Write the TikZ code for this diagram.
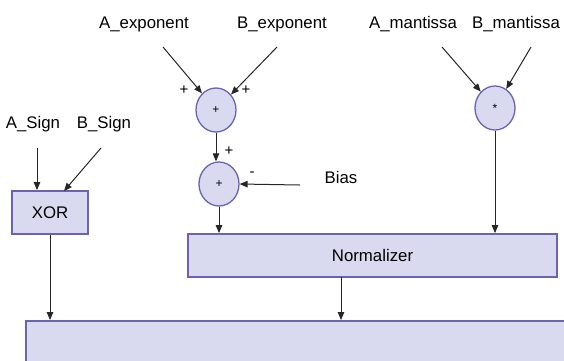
\documentclass[tikz,border=0pt]{standalone}
\usepackage{fontspec}
\setmainfont{Liberation Sans}
\usetikzlibrary{shapes.geometric,arrows.meta}
\definecolor{boxfill}{HTML}{D9DAF0}
\definecolor{boxline}{HTML}{6C62B4}
\tikzset{
  lbl/.style={font=\fontsize{16.8}{19}\selectfont, inner sep=0pt},
  sml/.style={font=\fontsize{15}{17}\selectfont, inner sep=0pt},
  opnode/.style={ellipse, draw=boxline, line width=1.3pt, fill=boxfill, minimum width=40pt, minimum height=44pt, inner sep=0pt, font=\fontsize{12}{14}\selectfont},
  blk/.style={rectangle, draw=boxline, line width=1.8pt, fill=boxfill, inner sep=0pt, font=\fontsize{16.8}{19}\selectfont},
  arr/.style={-{Triangle[length=8pt,width=6.5pt]}, line width=1pt, black!85},
}
\begin{document}
\begin{tikzpicture}[x=1pt,y=-1pt]
\useasboundingbox (0,0) rectangle (564,360);
\begin{scope}
\clip (0,0) rectangle (564,360);
% labels
\node[lbl] (aexp) at (144,24) {A\_exponent};
\node[lbl] (bexp) at (282,24) {B\_exponent};
\node[lbl] (aman) at (413,24) {A\_mantissa};
\node[lbl] (bman) at (516,24) {B\_mantissa};
\node[lbl] (asgn) at (33,124) {A\_Sign};
\node[lbl] (bsgn) at (104,124) {B\_Sign};
\node[lbl] (bias) at (341,177) {Bias};
% operators
\node[opnode] (add1) at (216,110) {+};
\node[opnode] (add2) at (219,184) {+};
\node[opnode] (mul) at (495,108) {*};
% blocks
\node[blk, minimum width=76pt, minimum height=43pt] (xor) at (50,212.5) {XOR};
\node[blk, minimum width=369pt, minimum height=43pt] (norm) at (372.5,255.5) {Normalizer};
\node[blk, minimum width=560pt, minimum height=60pt, anchor=north west] (out) at (25,320) {};
% free ends
\coordinate (ae) at (163,47);
\coordinate (be) at (277,47);
\coordinate (am) at (442,47);
\coordinate (bm) at (531,47);
\coordinate (as) at (37,148);
\coordinate (bs) at (101,148);
\coordinate (bi) at (300,185);
% connectors
\draw[arr] (ae) -- (add1);
\draw[arr] (be) -- (add1);
\draw[arr] (am) -- (mul);
\draw[arr] (bm) -- (mul);
\draw[arr] (add1.south) -- (add2.north -| add1.south);
\draw[arr] (bi) -- (add2.east);
\draw[arr] (add2.south) -- (norm.north -| add2.south);
\draw[arr] (mul.south) -- (norm.north -| mul.south);
\draw[arr] (as) -- (xor.north -| as);
\draw[arr] (bs) -- (64,191);
\draw[arr] (xor.south) -- (out.north -| xor.south);
\draw[arr] (341,277) -- (out.north -| 341,277);
% signs
\node[sml] at (184,90) {+};
\node[sml] at (246,90) {+};
\node[sml] at (229,151) {+};
\node[sml] at (252,174) {-};
\end{scope}
\end{tikzpicture}
\end{document}
